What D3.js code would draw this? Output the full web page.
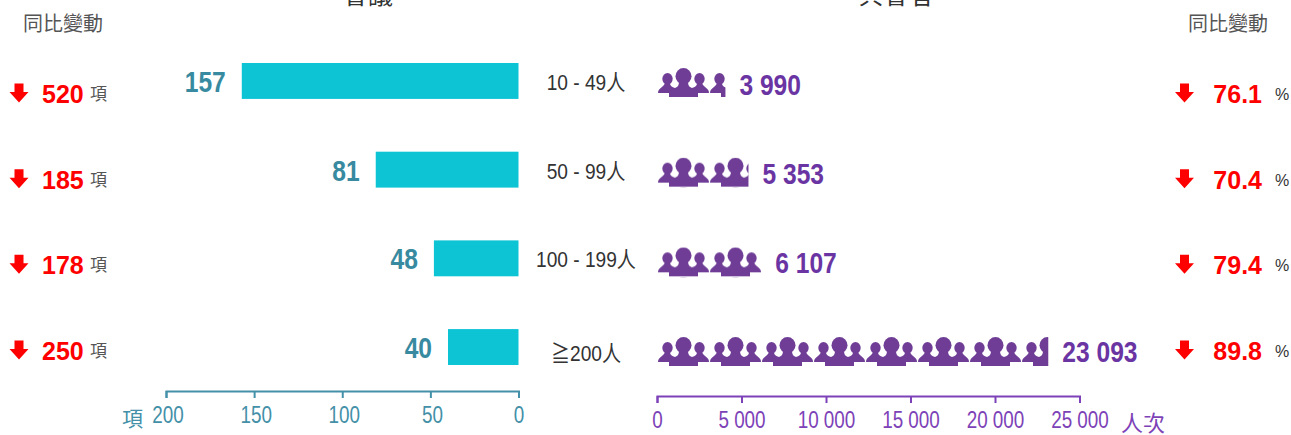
<!DOCTYPE html>
<html lang="zh-Hant">
<head>
    <meta charset="UTF-8">
    <title>會議與與會者</title>
    <script src="https://d3js.org/d3.v7.min.js"></script>
    <style>
        html, body {margin: 0; padding: 0; background: #fff; overflow: hidden;}
        svg {display: block;}
        text {font-family: "Liberation Sans", "Noto Sans CJK TC", sans-serif;}
        .bold {font-weight: bold;}
        .domain, .tick line {stroke-width: 2;}
    </style>
</head>
<body>
<script>
    const categories = ["10 - 49人", "50 - 99人", "100 - 199人", "≧200人"];
    const meetings = [157, 81, 48, 40];
    const meetingChange = [520, 185, 178, 250];
    const attendees = [3990, 5353, 6107, 23093];
    const attendeeChange = ["76.1", "70.4", "79.4", "89.8"];
    const meetingTicks = [200, 150, 100, 50, 0];
    const attendeeTicks = [0, 5000, 10000, 15000, 20000, 25000];

    const width = 1291;
    const height = 435;
    const teal = "#4390a8";
    const tealText = "#378a9f";
    const purple = "#7d42b8";
    const purpleText = "#6a35a3";
    const iconColor = "#6f3d96";
    const red = "#ff0000";
    const gray = "#555";

    const svg = d3.select("body").append("svg")
            .attr("width", width).attr("height", height);
    const defs = svg.append("defs");

    const xMeet = d3.scaleLinear().domain([200, 0]).range([166, 518.5]);
    const xPeople = d3.scaleLinear().domain([0, 25000]).range([657, 1079.5]);
    const y = d3.scaleBand().domain(categories).range([63, 365]).paddingInner(0.595);
    // the side columns and the pictograms sit on their own row spacing
    const yChange = d3.scalePoint().domain(categories).range([103, 360]);
    const yIcon = d3.scalePoint().domain(categories).range([68, 337]);
    const yPeopleValue = d3.scalePoint().domain(categories).range([95, 362]);
    const spaced = d => d3.format(",")(d).replace(/,/g, " ");

    // no narrow font here, so squeeze the regular one
    function narrow(sel, ratio = 0.82) {
        sel.each(function() {
            d3.select(this)
                .attr("lengthAdjust", "spacingAndGlyphs")
                .attr("textLength", this.getComputedTextLength() * ratio);
        });
    }

    // one group of three people, repeated along the bar
    const iconWidth = 52;
    const pattern = defs.append("pattern").attr("id", "people")
            .attr("patternUnits", "userSpaceOnUse")
            .attr("width", iconWidth).attr("height", 30);
    pattern.append("path").attr("fill", iconColor)
            .attr("d", "M0,25 C0,20 5,20 7,15 L12,15 C12,18 14,19 17,20 C20,19 21,17 21,13 L30,13 "
                + "C30,17 31,19 34,20 C37,19 39,18 39,15 L44,15 C46,20 51,20 51,25 L40,25 L40,29 L11,29 L11,25 Z");
    pattern.append("ellipse").attr("fill", iconColor)
            .attr("cx", 25.5).attr("cy", 8.2).attr("rx", 8).attr("ry", 8.2);
    pattern.append("ellipse").attr("fill", iconColor)
            .attr("cx", 9.5).attr("cy", 10.8).attr("rx", 5.2).attr("ry", 5.8);
    pattern.append("ellipse").attr("fill", iconColor)
            .attr("cx", 41.5).attr("cy", 10.8).attr("rx", 5.2).attr("ry", 5.8);

    // header labels
    svg.append("text").attr("x", 63).attr("y", 31).attr("text-anchor", "middle")
            .attr("font-size", 20).attr("fill", gray).text("同比變動");
    svg.append("text").attr("x", 1228).attr("y", 31).attr("text-anchor", "middle")
            .attr("font-size", 20).attr("fill", gray).text("同比變動");
    svg.append("text").attr("x", 368).attr("y", 4).attr("text-anchor", "middle")
            .attr("font-size", 25).attr("fill", "#333").text("會議");
    svg.append("text").attr("x", 896).attr("y", 4).attr("text-anchor", "middle")
            .attr("font-size", 25).attr("fill", "#333").text("與會者");

    // meeting bars
    svg.selectAll("rect.meet")
            .data(meetings).enter()
            .append("rect").attr("class", "meet")
            .attr("x", d => xMeet(d))
            .attr("y", (d, i) => y(categories[i]))
            .attr("width", d => xMeet(0) - xMeet(d))
            .attr("height", y.bandwidth())
            .attr("fill", "#0dc4d5");

    svg.selectAll("text.meetValue")
            .data(meetings).enter()
            .append("text").attr("class", "meetValue bold")
            .attr("x", d => xMeet(d) - 16)
            .attr("y", (d, i) => y(categories[i]) + 29)
            .attr("text-anchor", "end")
            .attr("font-size", 30).attr("fill", tealText)
            .text(d => d)
            .call(narrow);

    // category labels
    svg.selectAll("text.cat")
            .data(categories).enter()
            .append("text").attr("class", "cat")
            .attr("x", 586)
            .attr("y", (d, i) => y(d) + 27 + (i === 3 ? 5 : 0))
            .attr("text-anchor", "middle")
            .attr("font-size", 22).attr("fill", "#333")
            .text(d => d)
            .call(narrow, 0.87);

    // attendee pictogram bars
    svg.selectAll("g.people")
            .data(attendees).enter()
            .append("g").attr("class", "people")
            .attr("transform", (d, i) => `translate(${xPeople(0) + 1},${yIcon(categories[i])})`)
            .append("rect")
            .attr("width", d => xPeople(d) - xPeople(0))
            .attr("height", 30)
            .attr("fill", "url(#people)");

    svg.selectAll("text.peopleValue")
            .data(attendees).enter()
            .append("text").attr("class", "peopleValue bold")
            .attr("x", d => xPeople(d) + 15)
            .attr("y", (d, i) => yPeopleValue(categories[i]))
            .attr("font-size", 30).attr("fill", purpleText)
            .text(d => spaced(d))
            .call(narrow);

    // down arrows and change numbers
    const arrow = "M-4.5,-9.5 L4.5,-9.5 L4.5,-1 L9.5,-1 L0,9.5 L-9.5,-1 L-4.5,-1 Z";

    function arrows(x) {
        svg.selectAll(null)
                .data(categories).enter()
                .append("path")
                .attr("d", arrow)
                .attr("fill", red)
                .attr("transform", d => `translate(${x},${yChange(d) - 10})`);
    }
    arrows(19);
    arrows(1184.5);

    svg.selectAll("text.meetChange")
            .data(meetingChange).enter()
            .append("text").attr("class", "meetChange bold")
            .attr("x", 42)
            .attr("y", (d, i) => yChange(categories[i]))
            .attr("font-size", 25).attr("fill", red)
            .text(d => d);

    svg.selectAll("text.meetUnit")
            .data(categories).enter()
            .append("text").attr("class", "meetUnit")
            .attr("x", 90)
            .attr("y", d => yChange(d) - 3)
            .attr("font-size", 17).attr("fill", gray)
            .text("項");

    svg.selectAll("text.peopleChange")
            .data(attendeeChange).enter()
            .append("text").attr("class", "peopleChange bold")
            .attr("x", 1262)
            .attr("y", (d, i) => yChange(categories[i]))
            .attr("text-anchor", "end")
            .attr("font-size", 25).attr("fill", red)
            .text(d => d);

    svg.selectAll("text.peopleUnit")
            .data(categories).enter()
            .append("text").attr("class", "peopleUnit")
            .attr("x", 1275)
            .attr("y", d => yChange(d) - 3)
            .attr("font-size", 16).attr("fill", "#333")
            .text("%");

    // axes
    const axisMeet = d3.axisBottom(xMeet).tickValues(meetingTicks).tickSize(7).tickSizeOuter(7).tickPadding(9);
    const gMeet = svg.append("g").attr("transform", "translate(0,391)").call(axisMeet);
    gMeet.selectAll(".domain, .tick line").attr("stroke", teal);
    gMeet.selectAll("text").style("font-family", "'Liberation Sans'")
            .attr("font-size", 23).attr("fill", teal).attr("dx", d => d === 0 ? 0 : 1.5).call(narrow);

    const axisPeople = d3.axisBottom(xPeople).tickValues(attendeeTicks).tickSize(7).tickSizeOuter(7).tickPadding(9)
            .tickFormat(spaced);
    const gPeople = svg.append("g").attr("transform", "translate(0,396)").call(axisPeople);
    gPeople.selectAll(".domain, .tick line").attr("stroke", purple);
    gPeople.selectAll("text").style("font-family", "'Liberation Sans'")
            .attr("font-size", 23).attr("fill", purple).call(narrow);

    svg.append("text").attr("x", 122).attr("y", 426)
            .attr("font-size", 21).attr("fill", teal).text("項");
    svg.append("text").attr("x", 1121).attr("y", 431)
            .attr("font-size", 22).attr("fill", purple).text("人次");
</script>
</body>
</html>
